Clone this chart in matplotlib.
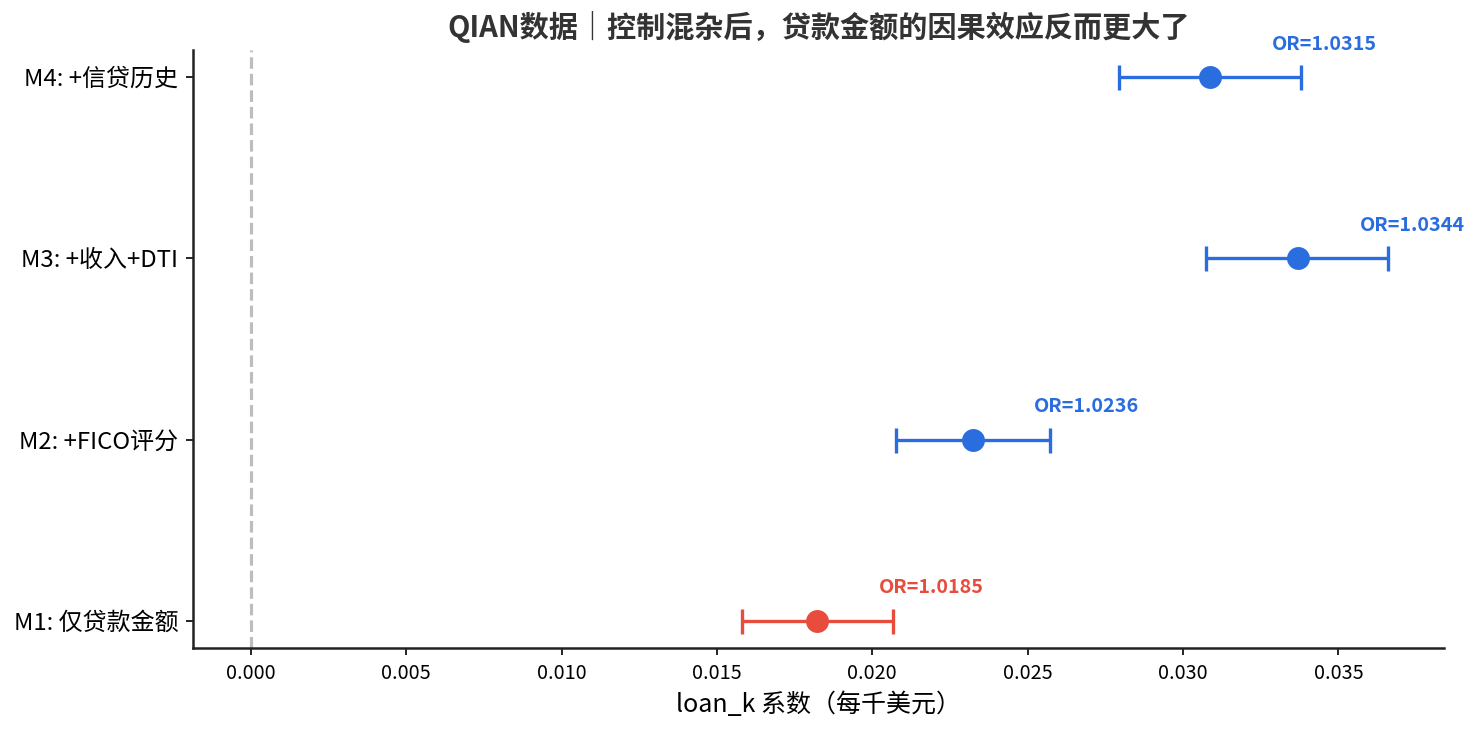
import math

import matplotlib
matplotlib.use("Agg")
import matplotlib.pyplot as plt
import numpy as np

plt.rcParams['font.family'] = ['Noto Sans CJK SC', 'DejaVu Sans']
plt.rcParams['axes.unicode_minus'] = False

models = ["M1: 仅贷款金额", "M2: +FICO评分", "M3: +收入+DTI", "M4: +信贷历史"]
coefs = [0.01823, 0.02323, 0.03370, 0.03088]
ci_low = [0.01582, 0.02075, 0.03075, 0.02795]
ci_high = [0.02066, 0.02572, 0.03660, 0.03380]
odds = [1.0185, 1.0236, 1.0344, 1.0315]
colors = ["#e74c3c", "#2a6ddf", "#2a6ddf", "#2a6ddf"]


def main():
    fig = plt.figure(figsize=(1478 / 150, 735 / 150), dpi=150)
    ax = fig.add_axes([0.1306, 0.1184, 0.8464, 0.8136])

    ax.axvline(0, color="#bdbdbd", linestyle="--", linewidth=1.5, zorder=1)

    y = np.arange(len(models))
    for i in range(len(models)):
        err = [[coefs[i] - ci_low[i]], [ci_high[i] - coefs[i]]]
        ax.errorbar(coefs[i], y[i], xerr=err, fmt="o", color=colors[i],
                    ecolor=colors[i], elinewidth=1.6, capsize=6, capthick=1.6,
                    markersize=10, zorder=3)
        ax.text(coefs[i] + 0.00367, y[i] + 0.13, "OR=%.4f" % odds[i],
                color=colors[i], fontsize=9.5, fontweight="bold",
                ha="center", va="bottom")

    ax.set_yticks(y)
    ax.set_yticklabels(models, fontsize=11.5)
    ax.set_xticks(np.arange(0, 0.0351, 0.005))
    ax.set_xticklabels(["%.3f" % v for v in np.arange(0, 0.0351, 0.005)], fontsize=9.5)
    ax.set_xlim(-0.00186, 0.0384)
    ax.set_ylim(-0.15, 3.15)
    ax.set_xlabel("loan_k 系数（每千美元）", fontsize=12)
    ax.set_title("QIAN数据｜控制混杂后，贷款金额的因果效应反而更大了",
                 fontsize=14, fontweight="bold", color="#333333", pad=6)

    ax.spines["top"].set_visible(False)
    ax.spines["right"].set_visible(False)
    for s in ("left", "bottom"):
        ax.spines[s].set_linewidth(1.2)
        ax.spines[s].set_color("#222222")

    fig.savefig("out.png", dpi=150)


if __name__ == '__main__':
    main()
